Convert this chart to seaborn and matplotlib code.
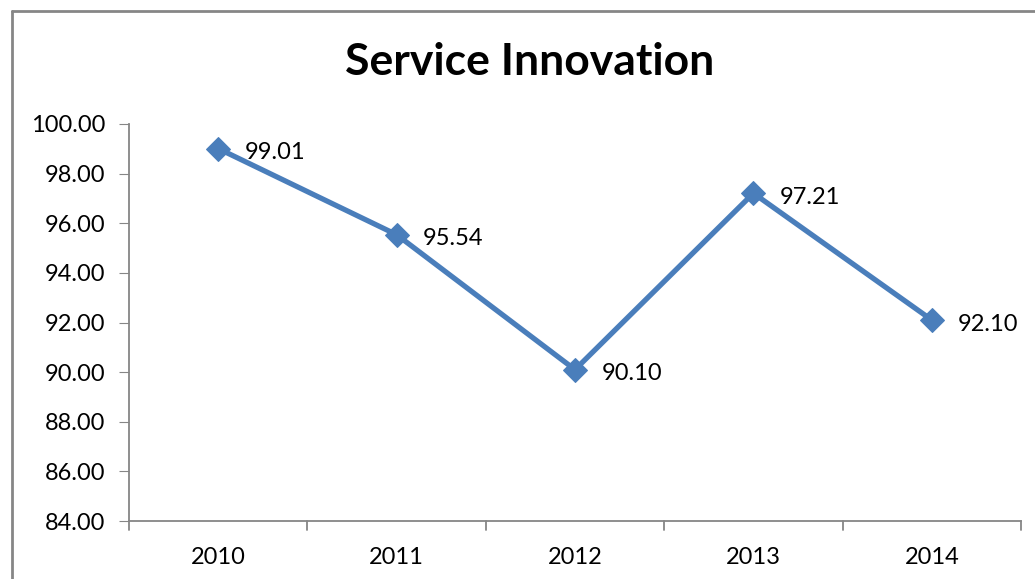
import matplotlib
matplotlib.use("Agg")
import matplotlib.pyplot as plt
from matplotlib.lines import Line2D
import seaborn as sns
import pandas as pd

years = ["2010", "2011", "2012", "2013", "2014"]
values = [99.01, 95.54, 90.10, 97.21, 92.10]
title = "Service Innovation"

sns.set_style("white")
plt.rcParams['font.family'] = ['Lato', 'DejaVu Sans']

df = pd.DataFrame({"x": range(len(years)), "y": values})

fig = plt.figure(figsize=(10.35, 5.79), dpi=100)
ax = fig.add_axes([129/1035, 1 - 521/579, (1021 - 129)/1035, (521 - 124)/579])

color = "#4A7EBB"
sns.lineplot(data=df, x="x", y="y", ax=ax, color=color, linewidth=3.8,
             marker="D", markersize=12.5, markeredgecolor=color, markerfacecolor=color)

for i, v in enumerate(values):
    ax.annotate(f"{v:.2f}", (i, v), xytext=(19, -3), textcoords="offset points",
                ha="left", va="center", fontsize=17, color="black")

ax.set_xlim(-0.5, len(years) - 0.5)
ax.set_ylim(84, 100)
ax.set_yticks([84 + 2 * k for k in range(9)])
ax.set_yticklabels([f"{84 + 2 * k:.2f}" for k in range(9)], fontsize=17, color="black")
ax.set_xticks(range(len(years)))
ax.set_xticklabels(years, fontsize=17, color="black")
ax.tick_params(axis="x", length=0, pad=19)
ax.tick_params(axis="y", length=7, color="#868686", pad=10, direction="out", left=True)
for b in [k - 0.5 for k in range(len(years) + 1)]:
    ax.plot([b, b], [0, -0.022], transform=ax.get_xaxis_transform(), color="#868686",
            linewidth=1.3, clip_on=False)
ax.set_xlabel("")
ax.set_ylabel("")
for s in ["top", "right"]:
    ax.spines[s].set_visible(False)
for s in ["left", "bottom"]:
    ax.spines[s].set_color("#868686")
    ax.spines[s].set_linewidth(1.3)
ax.grid(False)

fig.text(530/1035, 1 - 62/579, title, ha="center", va="center", fontsize=32,
         fontweight="bold", color="black")

# outer chart frame
fig.add_artist(Line2D([12/1035, 12/1035], [0, 1 - 11/579], transform=fig.transFigure, color="#868686", linewidth=2))
fig.add_artist(Line2D([12/1035, 1], [1 - 11/579, 1 - 11/579], transform=fig.transFigure, color="#868686", linewidth=2))

fig.savefig("out.png", dpi=100)
